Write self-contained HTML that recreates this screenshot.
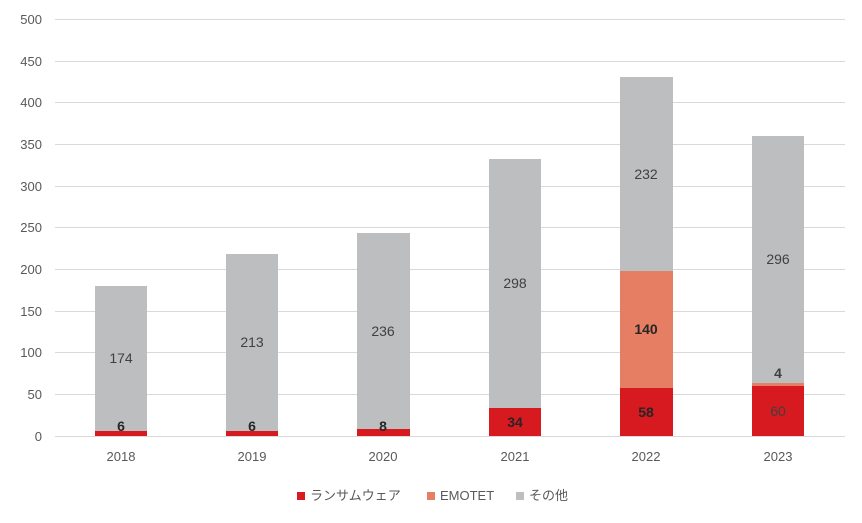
<!DOCTYPE html>
<html><head><meta charset="utf-8"><style>
body{margin:0;background:#fff;}
svg text{font-family:"Liberation Sans","Noto Sans CJK JP",sans-serif;}
</style></head><body>
<svg width="862" height="518" xmlns="http://www.w3.org/2000/svg">
<g stroke="#d9d9d9" stroke-width="1">
<line x1="55" x2="845" y1="19.5" y2="19.5"/><line x1="55" x2="845" y1="61.5" y2="61.5"/>
<line x1="55" x2="845" y1="102.5" y2="102.5"/><line x1="55" x2="845" y1="144.5" y2="144.5"/>
<line x1="55" x2="845" y1="186.5" y2="186.5"/><line x1="55" x2="845" y1="227.5" y2="227.5"/>
<line x1="55" x2="845" y1="269.5" y2="269.5"/><line x1="55" x2="845" y1="311.5" y2="311.5"/>
<line x1="55" x2="845" y1="352.5" y2="352.5"/><line x1="55" x2="845" y1="394.5" y2="394.5"/>
<line x1="55" x2="845" y1="436.5" y2="436.5"/>
</g>
<g font-size="13" fill="#595959" text-anchor="end">
<text x="42" y="24">500</text><text x="42" y="66">450</text><text x="42" y="107">400</text>
<text x="42" y="149">350</text><text x="42" y="191">300</text><text x="42" y="232">250</text>
<text x="42" y="274">200</text><text x="42" y="316">150</text><text x="42" y="357">100</text>
<text x="42" y="399">50</text><text x="42" y="441">0</text>
</g>
<g>
<!-- 2018 -->
<rect x="95" y="286" width="52" height="145" fill="#bdbec0"/>
<rect x="95" y="431" width="52" height="5" fill="#d71920"/>
<!-- 2019 -->
<rect x="226" y="254" width="52" height="177" fill="#bdbec0"/>
<rect x="226" y="431" width="52" height="5" fill="#d71920"/>
<!-- 2020 -->
<rect x="357" y="233" width="53" height="196" fill="#bdbec0"/>
<rect x="357" y="429" width="53" height="7" fill="#d71920"/>
<!-- 2021 -->
<rect x="489" y="159" width="52" height="249" fill="#bdbec0"/>
<rect x="489" y="408" width="52" height="28" fill="#d71920"/>
<!-- 2022 -->
<rect x="620" y="77" width="53" height="194" fill="#bdbec0"/>
<rect x="620" y="271" width="53" height="117" fill="#e67e63"/>
<rect x="620" y="388" width="53" height="48" fill="#d71920"/>
<!-- 2023 -->
<rect x="752" y="136" width="52" height="247" fill="#bdbec0"/>
<rect x="752" y="383" width="52" height="4" fill="#e67e63"/>
<rect x="752" y="386" width="52" height="50" fill="#d71920"/>
</g>
<g font-size="14" fill="#404040" text-anchor="middle">
<text x="121" y="363">174</text><text x="252" y="347">213</text><text x="383" y="336">236</text>
<text x="515" y="288">298</text><text x="646" y="179">232</text><text x="778" y="264">296</text>
<text x="778" y="416">60</text>
</g>
<g font-size="14" font-weight="bold" fill="#262626" text-anchor="middle">
<text x="121" y="431">6</text><text x="252" y="431">6</text><text x="383" y="431">8</text>
<text x="515" y="427">34</text><text x="646" y="417">58</text><text x="646" y="334">140</text>
<text x="778" y="378" fill="#404040">4</text>
</g>
<g font-size="13" fill="#595959" text-anchor="middle">
<text x="121" y="461">2018</text><text x="252" y="461">2019</text><text x="383" y="461">2020</text>
<text x="515" y="461">2021</text><text x="646" y="461">2022</text><text x="778" y="461">2023</text>
</g>
<g font-size="13" fill="#595959">
<rect x="297" y="492" width="8" height="8" fill="#d71920"/><text x="310" y="500">ランサムウェア</text>
<rect x="427" y="492" width="8" height="8" fill="#e67e63"/><text x="440" y="500">EMOTET</text>
<rect x="516" y="492" width="8" height="8" fill="#bdbec0"/><text x="529" y="500">その他</text>
</g>
</svg>
</body></html>
